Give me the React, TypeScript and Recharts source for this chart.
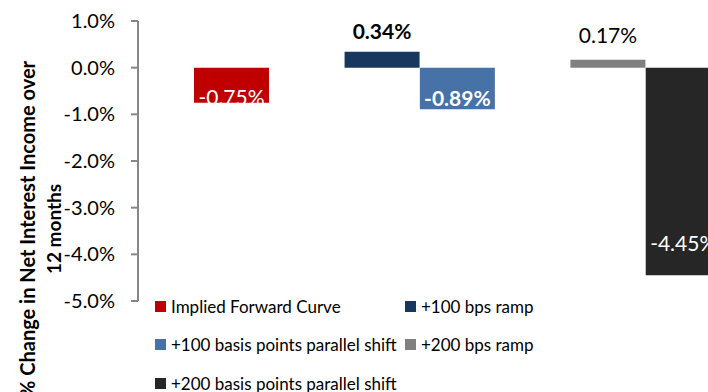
import React from "react";
import { BarChart, Bar, XAxis, YAxis, Legend } from "recharts";

const seriesNames = [
  "Implied Forward Curve",
  "+100 bps ramp",
  "+100 basis points parallel shift",
  "+200 bps ramp",
  "+200 basis points parallel shift",
];
const seriesValues = [-0.75, 0.34, -0.89, 0.17, -4.45];
const seriesColors = ["#C00000", "#17375E", "#4672A8", "#808080", "#262626"];
// which series sits in each bar slot along the category axis (null = empty slot)
const slotSeries: (number | null)[] = [0, null, 1, 2, null, 3, 4];
const yTicks = [1, 0, -1, -2, -3, -4, -5];

// label styling per series: colour, weight, offset from bar end (px)
const labelStyles = [
  { fill: "#FFFFFF", weight: 400, inset: 6 },
  { fill: "#000000", weight: 700, inset: -21 },
  { fill: "#FFFFFF", weight: 700, inset: 12 },
  { fill: "#000000", weight: 400, inset: -25 },
  { fill: "#FFFFFF", weight: 400, inset: 33 },
];

const FONT = "Lato, 'Open Sans', sans-serif";

const data = slotSeries.map((s, idx) => {
  const row: Record<string, any> = { slot: `slot${idx}` };
  seriesNames.forEach((_, i) => {
    row[`s${i}`] = s === i ? seriesValues[i] : null;
  });
  return row;
});

const fmt = (v: number) => `${v.toFixed(2)}%`;

const makeLabel = (i: number) => (props: any) => {
  const { x, y, width, height, value } = props;
  if (value == null || !height || Math.abs(height) < 0.5) return null;
  if (Array.isArray(value) && value.every((t: any) => !t)) return null;
  const v = seriesValues[i];
  const top = Math.min(y, y + height);
  const bottom = Math.max(y, y + height);
  const st = labelStyles[i];
  const cy = v < 0 ? bottom - st.inset : top + st.inset;
  return (
    <text
      key={`lbl-${i}`}
      x={x + width / 2}
      y={cy}
      textAnchor="middle"
      dominantBaseline="central"
      fill={st.fill}
      fontWeight={st.weight}
      fontSize={21}
      fontFamily={FONT}
    >
      {fmt(v)}
    </text>
  );
};

const YLabel = (props: any) => {
  const vb = props.viewBox || { x: 0, y: 0, width: 0, height: 0 };
  const cy = vb.y + vb.height / 2 + 68;
  const x1 = 27;
  const x2 = 53;
  return (
    <g fontFamily={FONT} fontWeight={700} fill="#000">
      <text
        x={x1}
        y={cy}
        fontSize={20}
        textAnchor="middle"
        dominantBaseline="central"
        transform={`rotate(-90, ${x1}, ${cy})`}
      >
        % Change in Net Interest Income over
      </text>
      <text
        x={x2}
        y={cy}
        fontSize={19}
        textAnchor="middle"
        dominantBaseline="central"
        transform={`rotate(-90, ${x2}, ${cy})`}
      >
        12 months
      </text>
    </g>
  );
};

const LegendGrid = () => (
  <div
    style={{
      display: "grid",
      gridTemplateColumns: "250px 250px",
      gridAutoRows: "38.5px",
      fontFamily: FONT,
      fontSize: 17,
      color: "#000",
    }}
  >
    {seriesNames.map((name, k) => (
      <div key={name} style={{ display: "flex", alignItems: "center", whiteSpace: "nowrap" }}>
        <span
          style={{
            display: "inline-block",
            width: 11,
            height: 11,
            background: seriesColors[k],
            marginLeft: 5,
            marginRight: 5,
          }}
        />
        <span>{name}</span>
      </div>
    ))}
  </div>
);

export default function App() {
  return (
    <div
      style={{
        position: "fixed",
        left: 0,
        top: 0,
        width: 708,
        height: 392,
        overflow: "hidden",
        background: "#fff",
      }}
    >
      <BarChart
        width={737}
        height={392}
        data={data}
        margin={{ top: 21, right: 16, bottom: 91, left: 0 }}
        barCategoryGap={0}
        barGap={0}
        style={{ fontFamily: FONT }}
      >
        <XAxis dataKey="slot" hide padding={{ left: 56, right: 0 }} />
        <YAxis
          type="number"
          domain={[-5, 1]}
          ticks={yTicks}
          interval={0}
          width={138}
          tickSize={7}
          tickMargin={16}
          tickFormatter={(v: number) => `${v.toFixed(1)}%`}
          tick={{ fill: "#000", fontSize: 20, fontFamily: FONT }}
          axisLine={{ stroke: "#878787", strokeWidth: 2 }}
          tickLine={{ stroke: "#878787", strokeWidth: 2 }}
          label={{ content: (p: any) => <YLabel {...p} /> }}
        />
        <Legend
          layout="horizontal"
          verticalAlign="middle"
          align="center"
          wrapperStyle={{ left: 150, top: 287, width: 520, height: 116 }}
          content={() => <LegendGrid />}
        />
        {seriesNames.map((name, i) => (
          <Bar
            key={name}
            dataKey={`s${i}`}
            name={name}
            stackId="a"
            fill={seriesColors[i]}
            isAnimationActive={false}
            label={makeLabel(i)}
          />
        ))}
      </BarChart>
    </div>
  );
}
